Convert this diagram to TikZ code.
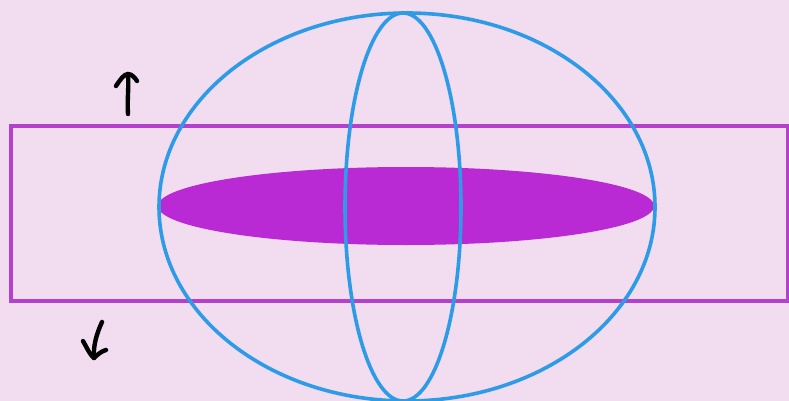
\documentclass[tikz,border=0pt]{standalone}
\definecolor{bg}{HTML}{F2DCF0}
\definecolor{blueline}{HTML}{2E9BE6}
\definecolor{purplefill}{HTML}{B92AD5}
\definecolor{purpleline}{HTML}{B440CC}
\begin{document}
\begin{tikzpicture}[x=1pt,y=-1pt,
  bluestroke/.style={draw=blueline,line width=3.6pt},
  arrowstroke/.style={draw=black,line width=4.4pt,line cap=round,line join=round}]
\fill[bg] (0,0) rectangle (789,401);
\useasboundingbox (0,0) rectangle (789,401);
\draw[purpleline,line width=3.6pt] (11,126) rectangle (788,301);
\fill[purplefill] (406,206) ellipse [x radius=248, y radius=39];
\draw[bluestroke] (407,207) ellipse [x radius=248, y radius=194];
\draw[bluestroke] (403,207) ellipse [x radius=58, y radius=194];
% up arrow
\draw[arrowstroke] (128,114) .. controls (127,100) and (129,88) .. (128,74);
\draw[arrowstroke] (116,86) .. controls (120,80) and (124,74) .. (128,74) .. controls (132,74) and (135,78) .. (137,81);
% down arrow
\draw[arrowstroke] (102,322) .. controls (97,333) and (93,345) .. (94,358);
\draw[arrowstroke] (83,341) .. controls (87,348) and (90,355) .. (94,358) .. controls (98,354) and (102,351) .. (106,350);
\end{tikzpicture}
\end{document}
